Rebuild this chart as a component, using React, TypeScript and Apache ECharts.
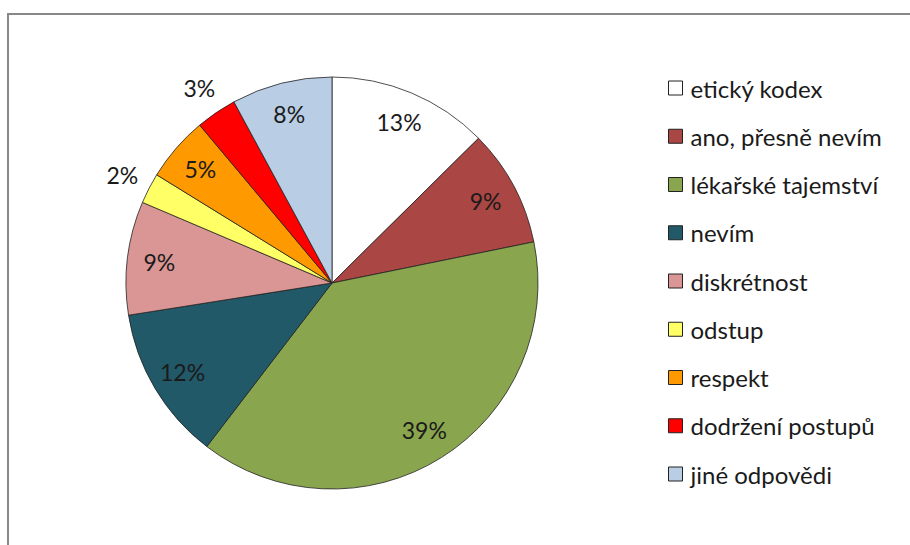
import React, { useEffect, useRef } from "react";
import * as echarts from "echarts";

const categories = [
  "etický kodex",
  "ano, přesně nevím",
  "lékařské tajemství",
  "nevím",
  "diskrétnost",
  "odstup",
  "respekt",
  "dodržení postupů",
  "jiné odpovědi",
];
const values = [12.6, 9.2, 38.6, 12.1, 8.9, 2.4, 5.1, 3.2, 7.9];
const colors = [
  "#FFFFFF",
  "#AA4643",
  "#89A54E",
  "#215968",
  "#D99694",
  "#FFFF66",
  "#FF9900",
  "#FF0000",
  "#B9CDE5",
];
const SMALL = 4;

export default function App() {
  const ref = useRef<HTMLDivElement>(null);
  useEffect(() => {
    if (!ref.current) return;
    const chart = echarts.init(ref.current, undefined, { renderer: "svg" });
    const data = categories.map((name, i) => ({
      name,
      value: values[i],
      itemStyle: { color: colors[i] },
    }));
    const ghost = categories.map((name, i) => ({ name, value: values[i] }));
    const fmt = (small: boolean) => (p: any) =>
      (p.value < SMALL) === small ? Math.round(p.percent) + "%" : "";
    const FONT = "Lato, 'Noto Sans', sans-serif";
    const labelFont = {
      fontFamily: FONT,
      fontSize: 23,
      color: "#1a1a1a",
    };
    chart.setOption({
      animation: false,
      backgroundColor: "#fff",
      graphic: [
        {
          type: "rect",
          shape: { x: 8, y: 14, width: 1000, height: 1000 },
          style: { fill: "none", stroke: "#888", lineWidth: 2 },
          silent: true,
        },
      ],
      legend: {
        orient: "vertical",
        left: 668,
        top: 76,
        padding: 0,
        itemWidth: 14,
        itemHeight: 14,
        itemGap: 24.25,
        icon: "rect",
        selectedMode: false,
        textStyle: {
          fontFamily: FONT,
          fontSize: 24,
          color: "#1a1a1a",
          padding: [0, 0, 0, 3],
        },
        data: categories.map((name, i) => ({
          name,
          itemStyle: { color: colors[i], borderColor: "#222", borderWidth: 1 },
        })),
      },
      series: [
        {
          type: "pie",
          center: [332, 283],
          radius: 206,
          startAngle: 90,
          clockwise: true,
          label: { show: false },
          labelLine: { show: false },
          emphasis: { disabled: true },
          itemStyle: { borderColor: "#222", borderWidth: 0.8 },
          data,
        },
        {
          type: "pie",
          center: [332, 283],
          radius: [136, 206],
          startAngle: 90,
          silent: true,
          emphasis: { disabled: true },
          itemStyle: { color: "rgba(0,0,0,0)", borderWidth: 0 },
          label: { show: true, position: "inside", formatter: fmt(false), ...labelFont },
          labelLine: { show: false },
          data: ghost,
        },
        {
          type: "pie",
          center: [332, 283],
          radius: [220, 246],
          startAngle: 90,
          silent: true,
          emphasis: { disabled: true },
          itemStyle: { color: "rgba(0,0,0,0)", borderWidth: 0 },
          label: { show: true, position: "inside", formatter: fmt(true), ...labelFont },
          labelLine: { show: false },
          data: ghost,
        },
      ],
    });
    return () => chart.dispose();
  }, []);
  return (
    <div
      ref={ref}
      style={{ position: "fixed", left: 0, top: 0, width: 910, height: 545 }}
    />
  );
}
